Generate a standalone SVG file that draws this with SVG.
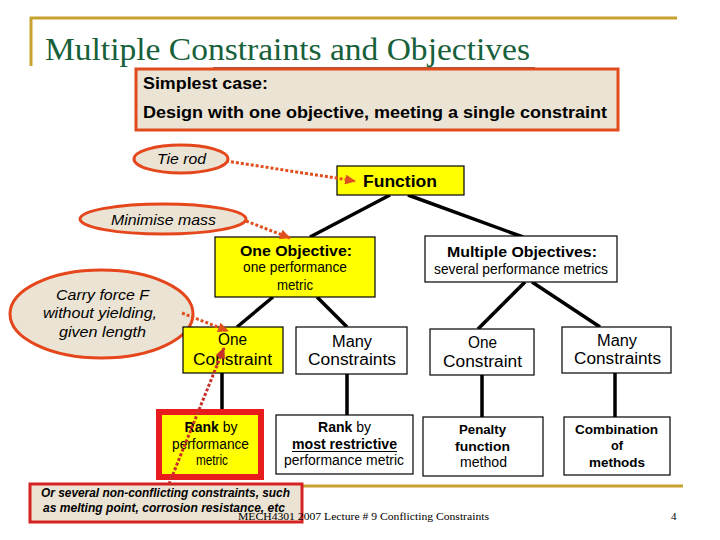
<svg xmlns="http://www.w3.org/2000/svg" width="720" height="540" viewBox="0 0 720 540">
<style>
.gold{stroke:#c8a22e;stroke-width:3;fill:none}
.box{stroke:#000;stroke-width:1.2}
.yel{fill:#ffff00}
.wht{fill:#fff}
.ell{fill:#ebe3d3;stroke:#e5461b;stroke-width:3}
.link{stroke:#000;stroke-width:3.5;fill:none}
.dash{stroke:#e0501e;stroke-width:3;stroke-dasharray:3 2;fill:none}
.dash2{stroke:#c8302a;stroke-width:3;stroke-dasharray:3 2;fill:none}
text{font-family:"Liberation Sans",Arial,sans-serif;fill:#000}
.c{text-anchor:middle}
.b{font-weight:bold}
.i{font-style:italic}
.t15{font-size:15px}
.t14{font-size:14px}
.t16{font-size:16px}
.t13{font-size:13px}
</style>
<defs>
<marker id="ah" markerUnits="userSpaceOnUse" markerWidth="12" markerHeight="10" refX="10" refY="5" orient="auto">
<path d="M0,0 L11,5 L0,10 Z" fill="#e0501e"/>
</marker>
<marker id="ah2" markerUnits="userSpaceOnUse" markerWidth="12" markerHeight="10" refX="10" refY="5" orient="auto">
<path d="M0,0 L11,5 L0,10 Z" fill="#c8302a"/>
</marker>
</defs>
<rect width="720" height="540" fill="#fff"/>

<g id="frame">
<line class="gold" x1="30" y1="18" x2="677" y2="18"/>
<line class="gold" x1="31" y1="17" x2="31" y2="66"/>
<line class="gold" x1="30" y1="486" x2="683" y2="486"/>
<text x="45" y="60" style="font-family:'Liberation Serif','Times New Roman',serif;font-size:31px;fill:#17603a" textLength="485" lengthAdjust="spacingAndGlyphs">Multiple Constraints and Objectives</text>
<line x1="213" y1="68" x2="535" y2="68" stroke="#5a2a18" stroke-width="1.5"/>
</g>

<g id="simplest">
<rect x="136" y="69" width="482" height="61" fill="#ebe3d3" stroke="#e04a1c" stroke-width="3"/>
<text class="b t16" x="143" y="89" textLength="125" lengthAdjust="spacingAndGlyphs">Simplest case:</text>
<text class="b t16" x="143" y="118" textLength="464" lengthAdjust="spacingAndGlyphs">Design with one objective, meeting a single constraint</text>
</g>

<g id="connectors">
<line class="link" x1="390" y1="195" x2="310" y2="237"/>
<line class="link" x1="408" y1="195" x2="523" y2="237"/>
<line class="link" x1="273" y1="297" x2="237" y2="327"/>
<line class="link" x1="317" y1="297" x2="347" y2="327"/>
<line class="link" x1="525" y1="282" x2="478" y2="329"/>
<line class="link" x1="532" y1="282" x2="600" y2="327"/>
<line class="link" x1="222" y1="373" x2="222" y2="410"/>
<line class="link" x1="347" y1="374" x2="347" y2="415"/>
<line class="link" x1="482" y1="375" x2="482" y2="417"/>
<line class="link" x1="615" y1="373" x2="615" y2="417"/>
</g>

<g id="tierod">
<ellipse class="ell" cx="181" cy="159" rx="47" ry="14"/>
<text class="i t15 c" x="181.5" y="164" textLength="49" lengthAdjust="spacingAndGlyphs">Tie rod</text>
</g>

<g id="function">
<rect class="box yel" x="337" y="166" width="127" height="29"/>
<text class="b t16 c" x="400" y="187" textLength="74" lengthAdjust="spacingAndGlyphs">Function</text>
</g>

<g id="minimise">
<ellipse class="ell" cx="163" cy="219" rx="83" ry="15"/>
<text class="i t15 c" x="163.5" y="225" textLength="105" lengthAdjust="spacingAndGlyphs">Minimise mass</text>
</g>

<g id="oneobj">
<rect class="box yel" x="215" y="237" width="160" height="60"/>
<text class="b t15 c" x="296" y="256" textLength="112" lengthAdjust="spacingAndGlyphs">One Objective:</text>
<text class="t14 c" x="295" y="272" textLength="104" lengthAdjust="spacingAndGlyphs">one performance</text>
<text class="t14 c" x="295" y="290" textLength="36" lengthAdjust="spacingAndGlyphs">metric</text>
</g>

<g id="multobj">
<rect class="box wht" x="425" y="236" width="192" height="46"/>
<text class="b t15 c" x="522" y="257" textLength="150" lengthAdjust="spacingAndGlyphs">Multiple Objectives:</text>
<text class="t14 c" x="521" y="274" textLength="174" lengthAdjust="spacingAndGlyphs">several performance metrics</text>
</g>

<g id="carry">
<ellipse class="ell" cx="101.5" cy="314" rx="91.5" ry="44"/>
<text class="i t15 c" x="102.5" y="300" textLength="93" lengthAdjust="spacingAndGlyphs">Carry force F</text>
<text class="i t15 c" x="100" y="318" textLength="114" lengthAdjust="spacingAndGlyphs">without yielding,</text>
<text class="i t15 c" x="102.5" y="337" textLength="87" lengthAdjust="spacingAndGlyphs">given length</text>
</g>

<g id="onecon1">
<rect class="box yel" x="183" y="327" width="100" height="46"/>
<text class="t16 c" x="232.5" y="345" textLength="29" lengthAdjust="spacingAndGlyphs">One</text>
<text class="t16 c" x="232.5" y="365" textLength="79" lengthAdjust="spacingAndGlyphs">Constraint</text>
</g>

<g id="manycon1">
<rect class="box wht" x="296" y="327" width="111" height="47"/>
<text class="t16 c" x="352" y="347" textLength="40" lengthAdjust="spacingAndGlyphs">Many</text>
<text class="t16 c" x="352" y="365" textLength="88" lengthAdjust="spacingAndGlyphs">Constraints</text>
</g>

<g id="onecon2">
<rect class="box wht" x="430" y="329" width="104" height="46"/>
<text class="t16 c" x="482.5" y="348" textLength="29" lengthAdjust="spacingAndGlyphs">One</text>
<text class="t16 c" x="482.5" y="367" textLength="79" lengthAdjust="spacingAndGlyphs">Constraint</text>
</g>

<g id="manycon2">
<rect class="box wht" x="562" y="327" width="109" height="46"/>
<text class="t16 c" x="617" y="346" textLength="40" lengthAdjust="spacingAndGlyphs">Many</text>
<text class="t16 c" x="617.5" y="364" textLength="87" lengthAdjust="spacingAndGlyphs">Constraints</text>
</g>

<g id="rank1">
<rect x="159" y="412" width="102" height="65" fill="#ffff00" stroke="#e81c1c" stroke-width="6"/>
<text class="t14 c" x="211" y="432"><tspan class="b">Rank</tspan> by</text>
<text class="t14 c" x="210.5" y="449" textLength="77" lengthAdjust="spacingAndGlyphs">performance</text>
<text class="t14 c" x="212" y="465" textLength="32" lengthAdjust="spacingAndGlyphs">metric</text>
</g>

<g id="rank2">
<rect class="box wht" x="276" y="415" width="137" height="59"/>
<text class="t14 c" x="344.5" y="432"><tspan class="b">Rank</tspan> by</text>
<text class="b t14 c" x="344.5" y="449" textLength="105" lengthAdjust="spacingAndGlyphs">most restrictive</text>
<line x1="292" y1="451.5" x2="397" y2="451.5" stroke="#000" stroke-width="1.2"/>
<text class="t14 c" x="344" y="465" textLength="120" lengthAdjust="spacingAndGlyphs">performance metric</text>
</g>

<g id="penalty">
<rect class="box wht" x="423" y="417" width="120" height="59"/>
<text class="b t13 c" x="482.5" y="434" textLength="47" lengthAdjust="spacingAndGlyphs">Penalty</text>
<text class="b t13 c" x="482.5" y="451" textLength="55" lengthAdjust="spacingAndGlyphs">function</text>
<text class="t14 c" x="483.5" y="467" textLength="47" lengthAdjust="spacingAndGlyphs">method</text>
</g>

<g id="combination">
<rect class="box wht" x="564" y="417" width="106" height="58"/>
<text class="b t13 c" x="616.5" y="434" textLength="83" lengthAdjust="spacingAndGlyphs">Combination</text>
<text class="b t13 c" x="617" y="450" textLength="12" lengthAdjust="spacingAndGlyphs">of</text>
<text class="b t13 c" x="617" y="467" textLength="56" lengthAdjust="spacingAndGlyphs">methods</text>
</g>

<g id="note">
<rect x="30" y="484" width="272" height="38" fill="#ebe3d3" stroke="#d62222" stroke-width="3"/>
<text class="b i c" style="font-size:12px" x="165.5" y="497" textLength="249" lengthAdjust="spacingAndGlyphs">Or several non-conflicting constraints, such</text>
<text class="b i c" style="font-size:12px" x="164" y="512" textLength="242" lengthAdjust="spacingAndGlyphs">as melting point, corrosion resistance, etc</text>
</g>

<g id="dashed-arrows">
<line class="dash" x1="226" y1="161" x2="355" y2="181" marker-end="url(#ah)"/>
<line class="dash" x1="246" y1="221" x2="290" y2="238" marker-end="url(#ah)"/>
<line class="dash" x1="182" y1="313" x2="228" y2="331" marker-end="url(#ah)"/>
<line class="dash2" x1="169" y1="484" x2="224" y2="348" marker-end="url(#ah2)"/>
</g>

<g id="footer">
<text x="238" y="520" style="font-family:'Liberation Serif','Times New Roman',serif;font-size:11px" textLength="251" lengthAdjust="spacingAndGlyphs">MECH4301 2007 Lecture # 9 Conflicting Constraints</text>
<text x="671" y="520" style="font-family:'Liberation Serif','Times New Roman',serif;font-size:11px">4</text>
</g>
</svg>
